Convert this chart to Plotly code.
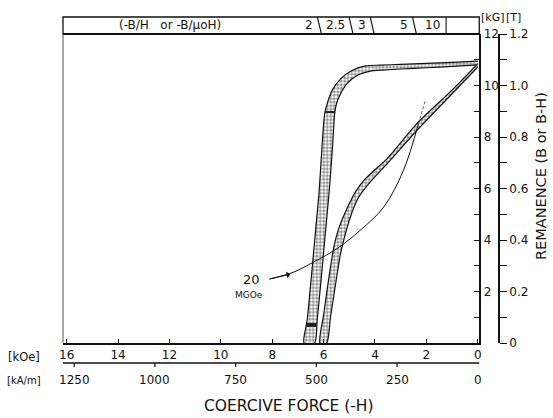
import numpy as np
import plotly.graph_objects as go

# ---------------- data (H in kOe, B in kG) ----------------
intr_outer_H = [0.0, 1.0, 2.0, 3.0, 3.8, 4.37, 4.89, 5.34, 5.67, 5.86, 5.96, 6.07, 6.18, 6.31, 6.44, 6.64, 6.76]
intr_outer_B = [10.95, 10.9, 10.86, 10.82, 10.79, 10.76, 10.58, 10.26, 9.81, 9.29, 8.9, 7.5, 5.8, 4.4, 2.96, 0.89, 0.0]
intr_inner_H = [0.0, 1.0, 2.0, 3.0, 3.7, 4.18, 4.70, 5.09, 5.34, 5.50, 5.57, 5.66, 5.79, 5.92, 6.05, 6.25, 6.35]
intr_inner_B = [10.8, 10.74, 10.69, 10.64, 10.6, 10.56, 10.39, 10.07, 9.68, 9.29, 8.9, 7.5, 5.8, 4.4, 2.96, 0.89, 0.0]

norm_outer_H = [0.0, 1.0, 2.37, 3.53, 4.37, 4.76, 5.09, 5.41, 5.60, 5.79, 5.99, 6.14]
norm_outer_B = [10.85, 9.82, 8.52, 7.16, 6.38, 5.87, 5.22, 4.45, 3.73, 2.57, 1.15, 0.0]
norm_inner_H = [0.0, 1.0, 2.31, 3.47, 4.24, 4.63, 4.89, 5.15, 5.34, 5.53, 5.73, 5.88]
norm_inner_B = [10.72, 9.68, 8.32, 7.03, 6.19, 5.67, 5.09, 4.25, 3.48, 2.31, 1.02, 0.0]

# 20 MGOe energy-product curve
hyp_H = [8.12, 7.15, 6.38, 5.47, 4.57, 3.66, 2.89, 2.31]
hyp_B = [2.48, 2.76, 3.15, 3.67, 4.38, 5.28, 6.71, 8.52]
hyp_tail_H = [2.31, 2.05]
hyp_tail_B = [8.52, 9.4]

# marks across the intrinsic band
mark_B = [8.97, 0.7]

# permeance coefficients in header band
pc_values = [2, 2.5, 3, 5, 10]

# axes ticks
koe_ticks = [16, 14, 12, 10, 8, 6, 4, 2, 0]
kam_ticks = [1250, 1000, 750, 500, 250, 0]
kg_ticks = list(range(0, 13))
t_ticks = [round(0.1 * i, 1) for i in range(0, 13)]

KAM_PER_KOE = 79.577
FONT = "DejaVu Sans"
INK = "#111111"

# ---------------- layout geometry ----------------
W, Hh = 553, 418
ml, mr, mt, mb = 63, 10, 34, 75
pw = W - ml - mr
ph = Hh - mt - mb
box_right = 481
xdom = (box_right - ml) / pw
x_left = 16.143
x_right = -0.058


def py(px):  # pixel y -> paper y
    return (Hh - mb - px) / ph


def pxx(px):  # pixel x -> paper x
    return (px - ml) / pw


fig = go.Figure()

pattern = dict(shape=".", size=3.5, solidity=0.6, fgcolor="#2a2a2a", bgcolor="#ffffff")

for oh, ob, ih, ib in [(intr_outer_H, intr_outer_B, intr_inner_H, intr_inner_B),
                       (norm_outer_H, norm_outer_B, norm_inner_H, norm_inner_B)]:
    fig.add_trace(go.Scatter(
        x=oh + ih[::-1], y=ob + ib[::-1], mode="lines", fill="toself",
        fillcolor="#8a8a8a", fillpattern=pattern,
        line=dict(color=INK, width=1.2, shape="spline", smoothing=0.7),
        showlegend=False, hoverinfo="skip"))

# marks across intrinsic band
for mb_ in mark_B:
    xo = float(np.interp(mb_, intr_outer_B[::-1], intr_outer_H[::-1]))
    xi = float(np.interp(mb_, intr_inner_B[::-1], intr_inner_H[::-1]))
    fig.add_trace(go.Scatter(x=[xo, xi], y=[mb_, mb_], mode="lines",
                             line=dict(color="#222222", width=2.2 if mb_ > 5 else 4),
                             showlegend=False, hoverinfo="skip"))

# energy product curve
fig.add_trace(go.Scatter(x=hyp_H, y=hyp_B, mode="lines",
                         line=dict(color=INK, width=1, shape="spline"),
                         showlegend=False, hoverinfo="skip"))
fig.add_trace(go.Scatter(x=hyp_tail_H, y=hyp_tail_B, mode="lines",
                         line=dict(color="#333333", width=0.8, dash="3px,2px"),
                         showlegend=False, hoverinfo="skip"))

# invisible trace for Tesla axis
fig.add_trace(go.Scatter(x=[None], y=[None], yaxis="y2", showlegend=False, hoverinfo="skip"))

shapes = []
# header band
shapes.append(dict(type="rect", xref="paper", yref="paper", x0=0, x1=xdom, y0=1, y1=py(17),
                   line=dict(color=INK, width=1.3)))
shapes.append(dict(type="line", xref="paper", yref="paper", x0=0, x1=xdom, y0=1, y1=1,
                   line=dict(color=INK, width=2)))
# left box edge
shapes.append(dict(type="line", xref="paper", yref="paper", x0=0, x1=0, y0=0, y1=1,
                   line=dict(color="#555555", width=1)))
# permeance slashes
for pc in pc_values:
    slant = 0 if pc >= 10 else 2
    shapes.append(dict(type="line", xref="x", yref="paper", xsizemode="pixel", xanchor=12.33 / pc,
                       x0=-slant, x1=slant, y0=py(17), y1=1,
                       line=dict(color=INK, width=1.1)))
# line under kOe labels
y_ul = py(363)
shapes.append(dict(type="line", xref="paper", yref="paper", x0=0, x1=xdom, y0=y_ul, y1=y_ul,
                   line=dict(color=INK, width=1.5)))
for v in kam_ticks:
    if v == 0:
        continue
    shapes.append(dict(type="line", xref="x", yref="paper", x0=v / KAM_PER_KOE, x1=v / KAM_PER_KOE,
                       y0=y_ul, y1=py(367), line=dict(color=INK, width=1.2)))

ann = []


def text(x, y, s, size, xref="paper", yref="paper", **kw):
    d = dict(xref=xref, yref=yref, x=x, y=y, text=s, showarrow=False,
             xanchor="center", yanchor="middle", font=dict(family=FONT, size=size, color=INK))
    d.update(kw)
    ann.append(d)


for pc in pc_values:
    text(12.33 / pc, py(25.5), str(pc), 12, xref="x", xanchor="right", xshift=-4)
text(pxx(170), py(25.5), "(-B/H&nbsp;&nbsp; or -B/μoH)", 12)
for v in kam_ticks:
    text(v / KAM_PER_KOE, py(380), str(v), 12, xref="x")
text(pxx(24), py(357), "[kOe]", 11.5)
text(pxx(24), py(380), "[kA/m]", 10)
text(pxx(290), py(406), "COERCIVE FORCE (-H)", 15.5)
text(pxx(543), py(176), "REMANENCE (B or B-H)", 14.5, textangle=-90)
text(pxx(494), py(17), "[kG]", 11)
text(pxx(515), py(17), "[T]", 11)
text(8.82, 2.48, "20", 13, xref="x", yref="y")
text(8.9, 1.86, "MGOe", 9, xref="x", yref="y")
ann.append(dict(xref="x", yref="y", x=7.3, y=2.67, axref="x", ayref="y", ax=8.12, ay=2.48,
                text="", showarrow=True, arrowhead=1, arrowsize=1.2, arrowwidth=1,
                arrowcolor=INK))

fig.update_layout(
    width=W, height=Hh,
    margin=dict(l=ml, r=mr, t=mt, b=mb),
    paper_bgcolor="white", plot_bgcolor="white",
    shapes=shapes, annotations=ann,
    xaxis=dict(domain=[0, xdom], range=[x_left, x_right], showgrid=False, zeroline=False,
               showline=True, linecolor=INK, linewidth=2,
               ticks="inside", ticklen=4, tickwidth=1.2, tickcolor=INK,
               tickvals=koe_ticks, ticktext=[str(v) for v in koe_ticks],
               tickfont=dict(family=FONT, size=12, color=INK)),
    yaxis=dict(range=[0, 12], side="right", showgrid=False, zeroline=False,
               showline=True, linecolor=INK, linewidth=2,
               ticks="inside", ticklen=5, tickwidth=1.2, tickcolor=INK,
               tickvals=kg_ticks,
               ticktext=[str(v) if (v % 2 == 0 and v > 0) else "" for v in kg_ticks],
               tickfont=dict(family=FONT, size=12, color=INK)),
    yaxis2=dict(range=[0, 1.2], overlaying="y", anchor="free", position=pxx(501), side="right",
                showgrid=False, zeroline=False, showline=True, linecolor=INK, linewidth=1.5,
                ticks="outside", ticklen=7, tickwidth=1.2, tickcolor=INK,
                tickvals=t_ticks,
                ticktext=[("0" if v == 0 else f"{v:.1f}") if (round(v * 10) % 2 == 0) else "" for v in t_ticks],
                tickfont=dict(family=FONT, size=12, color=INK)),
)

fig.write_html("out.html", config={"displayModeBar": False},
               post_script="document.body.style.margin='0px';")
